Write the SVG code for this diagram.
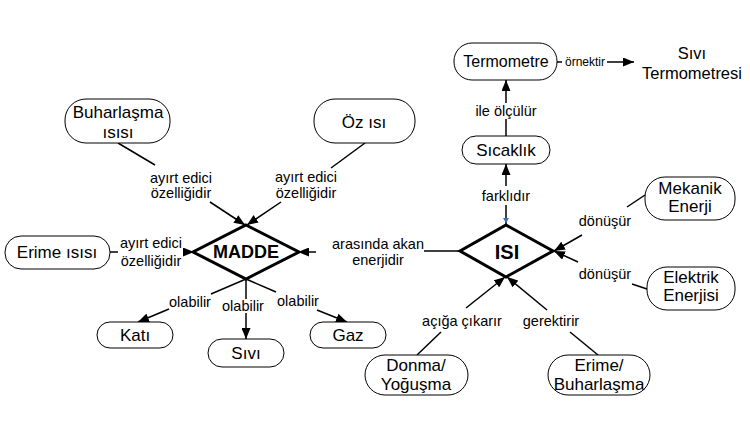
<svg xmlns="http://www.w3.org/2000/svg" width="750" height="432" viewBox="0 0 750 432">
<style>
.node{fill:#fff;stroke:#000;stroke-width:1}
.dia{fill:#fff;stroke:#000;stroke-width:3}
.t{font-family:"Liberation Sans",Arial,sans-serif;font-size:17px;fill:#000;text-anchor:middle}
.big{font-family:"Liberation Sans",Arial,sans-serif;font-weight:bold;fill:#000;text-anchor:middle}
.lbl{font-family:"Liberation Sans",Arial,sans-serif;font-size:14.5px;fill:#000;text-anchor:middle}
.c{stroke:#000;stroke-width:1.5;fill:none}
.a{stroke:#000;stroke-width:1.5;fill:none;marker-end:url(#ah)}
</style>
<defs>
<marker id="ah" markerUnits="userSpaceOnUse" markerWidth="11" markerHeight="9" refX="11" refY="4.5" orient="auto">
<path d="M0,0 L11,4.5 L0,9 z" fill="#000"/>
</marker>
</defs>
<rect width="750" height="432" fill="#fff"/>
<g id="connectors">
<line class="c" x1="118" y1="143" x2="155" y2="165"/>
<line class="a" x1="210" y1="202" x2="245" y2="225"/>
<line class="c" x1="365" y1="143" x2="331" y2="168"/>
<line class="a" x1="281" y1="202" x2="247" y2="225"/>
<line class="c" x1="110" y1="252" x2="118" y2="252"/>
<line class="a" x1="183" y1="252" x2="194" y2="252"/>
<line class="c" x1="460" y1="251" x2="424" y2="251"/>
<line class="a" x1="316" y1="252" x2="298" y2="252"/>
<line class="c" x1="246" y1="279" x2="211" y2="294"/>
<line class="a" x1="169" y1="309" x2="138" y2="322"/>
<line class="c" x1="246" y1="279" x2="246" y2="299"/>
<line class="a" x1="246" y1="313" x2="246" y2="339"/>
<line class="c" x1="246" y1="279" x2="276" y2="292"/>
<line class="a" x1="317" y1="310" x2="347" y2="322"/>
<line class="c" x1="506" y1="136" x2="506" y2="119"/>
<line class="a" x1="506" y1="103" x2="506" y2="80"/>
<line class="c" x1="506" y1="225" x2="506" y2="205"/>
<path d="M503,218 L509,218 L506,223 z" fill="#3a6fc4"/>
<line class="a" x1="506" y1="186" x2="506" y2="164"/>
<line class="c" x1="557" y1="62" x2="562" y2="62"/>
<line class="a" x1="607" y1="62" x2="634" y2="62"/>
<line class="c" x1="645" y1="195" x2="627" y2="207"/>
<line class="a" x1="582" y1="235" x2="554" y2="251"/>
<line class="c" x1="647" y1="289" x2="632" y2="284"/>
<line class="a" x1="578" y1="262" x2="554" y2="251"/>
<line class="c" x1="417" y1="355" x2="441" y2="332"/>
<line class="a" x1="466" y1="308" x2="505" y2="277"/>
<line class="c" x1="598" y1="355" x2="570" y2="332"/>
<line class="a" x1="547" y1="310" x2="507" y2="277"/>
</g>
<g id="labels">
<text class="lbl" x="181" y="183">ayırt edici</text>
<text class="lbl" x="181" y="198">özelliğidir</text>
<text class="lbl" x="306" y="182">ayırt edici</text>
<text class="lbl" x="306" y="198">özelliğidir</text>
<text class="lbl" x="151" y="248">ayırt edici</text>
<text class="lbl" x="151" y="266">özelliğidir</text>
<text class="lbl" x="378" y="249">arasında akan</text>
<text class="lbl" x="378" y="265">enerjidir</text>
<text class="lbl" x="190" y="307">olabilir</text>
<text class="lbl" x="243" y="311">olabilir</text>
<text class="lbl" x="298" y="306">olabilir</text>
<text class="lbl" x="506" y="116">ile ölçülür</text>
<text class="lbl" x="506" y="201">farklıdır</text>
<text class="lbl" x="585" y="66" style="font-size:12px">örnektir</text>
<text class="lbl" x="605" y="226">dönüşür</text>
<text class="lbl" x="605" y="279">dönüşür</text>
<text class="lbl" x="462" y="326">açığa çıkarır</text>
<text class="lbl" x="551" y="326">gerektirir</text>
</g>
<g id="MADDE">
<polygon class="dia" points="246,225 299,252 246,279 193,252"/>
<text class="big" x="246" y="258" style="font-size:18px">MADDE</text>
</g>
<g id="ISI">
<polygon class="dia" points="506,225 553,251 506,277 460,251"/>
<text class="big" x="507" y="259" style="font-size:20px">ISI</text>
</g>
<g id="buharlasma-isisi">
<rect class="node" x="65" y="99" width="105" height="44" rx="21"/>
<text class="t" x="118" y="118">Buharlaşma</text>
<text class="t" x="118" y="138">ısısı</text>
</g>
<g id="oz-isi">
<rect class="node" x="314" y="99" width="101" height="44" rx="21"/>
<text class="t" x="364" y="128">Öz ısı</text>
</g>
<g id="erime-isisi">
<rect class="node" x="5" y="236" width="105" height="33" rx="16"/>
<text class="t" x="57" y="258">Erime ısısı</text>
</g>
<g id="termometre">
<rect class="node" x="454" y="43" width="103" height="37" rx="18"/>
<text class="t" x="506" y="67" style="font-size:16px">Termometre</text>
</g>
<g id="sivi-termometresi">
<text class="t" x="692" y="59" style="font-size:16.5px">Sıvı</text>
<text class="t" x="692" y="79" style="font-size:16.5px">Termometresi</text>
</g>
<g id="sicaklik">
<rect class="node" x="462" y="136" width="88" height="28" rx="14"/>
<text class="t" x="506" y="156">Sıcaklık</text>
</g>
<g id="mekanik-enerji">
<rect class="node" x="645" y="177" width="90" height="43" rx="20"/>
<text class="t" x="690" y="194">Mekanik</text>
<text class="t" x="690" y="212">Enerji</text>
</g>
<g id="elektrik-enerjisi">
<rect class="node" x="647" y="267" width="88" height="43" rx="20"/>
<text class="t" x="691" y="283">Elektrik</text>
<text class="t" x="691" y="301">Enerjisi</text>
</g>
<g id="kati">
<rect class="node" x="97" y="322" width="76" height="26" rx="13"/>
<text class="t" x="135" y="341">Katı</text>
</g>
<g id="sivi">
<rect class="node" x="208" y="339" width="76" height="28" rx="14"/>
<text class="t" x="246" y="359">Sıvı</text>
</g>
<g id="gaz">
<rect class="node" x="310" y="322" width="76" height="26" rx="13"/>
<text class="t" x="348" y="341">Gaz</text>
</g>
<g id="donma-yogusma">
<rect class="node" x="365" y="355" width="103" height="40" rx="20"/>
<text class="t" x="416" y="371">Donma/</text>
<text class="t" x="416" y="390">Yoğuşma</text>
</g>
<g id="erime-buharlasma">
<rect class="node" x="548" y="355" width="102" height="40" rx="20"/>
<text class="t" x="599" y="371">Erime/</text>
<text class="t" x="599" y="390">Buharlaşma</text>
</g>
</svg>
